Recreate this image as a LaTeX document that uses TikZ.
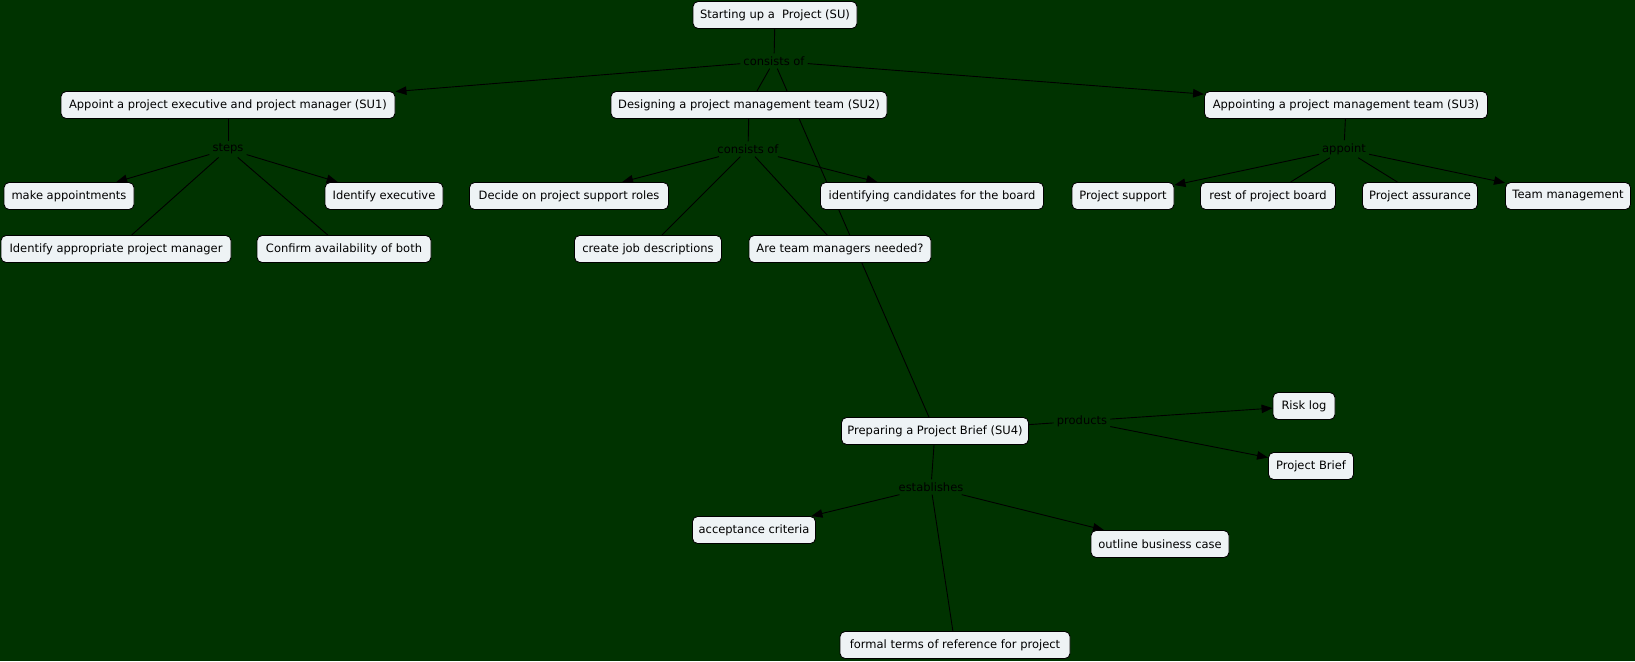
\documentclass[tikz,border=0pt]{standalone}
\usepackage{fontspec}
\setmainfont{DejaVu Sans}
\usetikzlibrary{arrows.meta}
\definecolor{bgreen}{RGB}{0,51,0}
\definecolor{boxfill}{RGB}{238,243,245}
\pgfdeclarelayer{bg}
\pgfdeclarelayer{edges}
\pgfsetlayers{bg,edges,main}
\begin{document}
\begin{tikzpicture}[x=1pt,y=-1pt,
  concept/.style={draw=black, line width=0.9pt, fill=boxfill, rounded corners=5pt,
    minimum height=27pt, inner xsep=3pt, inner ysep=2pt, font=\fontsize{11.5}{13}\selectfont},
  link/.style={text=black, inner xsep=3pt, inner ysep=3pt, font=\fontsize{11.5}{13}\selectfont},
  conn/.style={draw=black, line width=0.9pt},
  arr/.style={conn, -{Triangle[length=11pt,width=8.5pt]}}]
\useasboundingbox (0,0) rectangle (1635,661);
\begin{pgfonlayer}{bg}
\fill[bgreen] (0,0) rectangle (1635,661);
\end{pgfonlayer}

% concepts
\node[concept, minimum width=164pt] (su) at (775,15) {Starting up a~ Project (SU)};
\node[concept, minimum width=334pt] (su1) at (228,105) {Appoint a project executive and project manager (SU1)};
\node[concept, minimum width=276pt] (su2) at (749,105) {Designing a project management team (SU2)};
\node[concept, minimum width=283pt] (su3) at (1346,105) {Appointing a project management team (SU3)};

\node[concept, minimum width=130pt] (ma) at (69,196) {make appointments};
\node[concept, minimum width=118pt] (ie) at (384,196) {Identify executive};
\node[concept, minimum width=230pt] (iapm) at (116,249) {Identify appropriate project manager};
\node[concept, minimum width=174pt] (cab) at (344,249) {Confirm availability of both};

\node[concept, minimum width=199pt] (dps) at (569,196) {Decide on project support roles};
\node[concept, minimum width=223pt] (icb) at (932,196) {identifying candidates for the board};
\node[concept, minimum width=147pt] (cjd) at (648,249) {create job descriptions};
\node[concept, minimum width=182pt] (atm) at (840,249) {Are team managers needed?};

\node[concept, minimum width=102pt] (ps) at (1123,196) {Project support};
\node[concept, minimum width=135pt] (rpb) at (1268,196) {rest of project board};
\node[concept, minimum width=115pt] (pa) at (1420,196) {Project assurance};
\node[concept, minimum width=125pt] (tm) at (1568,196) {Team management};

\node[concept, minimum width=187pt] (su4) at (935,431) {Preparing a Project Brief (SU4)};
\node[concept, minimum width=62pt] (rl) at (1304,406) {Risk log};
\node[concept, minimum width=85pt] (pb) at (1311,466) {Project Brief};
\node[concept, minimum width=123pt] (ac) at (754,530) {acceptance criteria};
\node[concept, minimum width=138pt] (obc) at (1160,544) {outline business case};
\node[concept, minimum width=230pt] (ftr) at (955,645) {formal terms of reference for project};

% linking phrases
\node[link] (c1) at (774,61) {consists of};
\node[link] (steps) at (228,149) {steps};
\node[link] (c2) at (748,149) {consists of};
\node[link] (ap) at (1344,149) {appoint};
\node[link] (prod) at (1082,421) {products};
\node[link] (est) at (931,487) {establishes};

\begin{pgfonlayer}{edges}
\draw[conn] (su) -- (c1);
\draw[arr] (c1) -- (su1);
\draw[conn] (c1) -- (su2);
\draw[arr] (c1) -- (su3);
\draw[conn] (c1) -- (su4);

\draw[conn] (su1) -- (steps);
\draw[arr] (steps) -- (ma);
\draw[arr] (steps) -- (ie);
\draw[conn] (steps) -- (iapm);
\draw[conn] (steps) -- (cab);

\draw[conn] (su2) -- (c2);
\draw[arr] (c2) -- (dps);
\draw[arr] (c2) -- (icb);
\draw[conn] (c2) -- (cjd);
\draw[conn] (c2) -- (atm);

\draw[conn] (su3) -- (ap);
\draw[arr] (ap) -- (ps);
\draw[arr] (ap) -- (tm);
\draw[conn] (ap) -- (rpb);
\draw[conn] (ap) -- (pa);

\draw[conn] (su4) -- (prod);
\draw[arr] (prod) -- (rl);
\draw[arr] (prod) -- (pb);

\draw[conn] (su4) -- (est);
\draw[arr] (est) -- (ac);
\draw[arr] (est) -- (obc);
\draw[conn] (est) -- (ftr);
\end{pgfonlayer}
\end{tikzpicture}
\end{document}
